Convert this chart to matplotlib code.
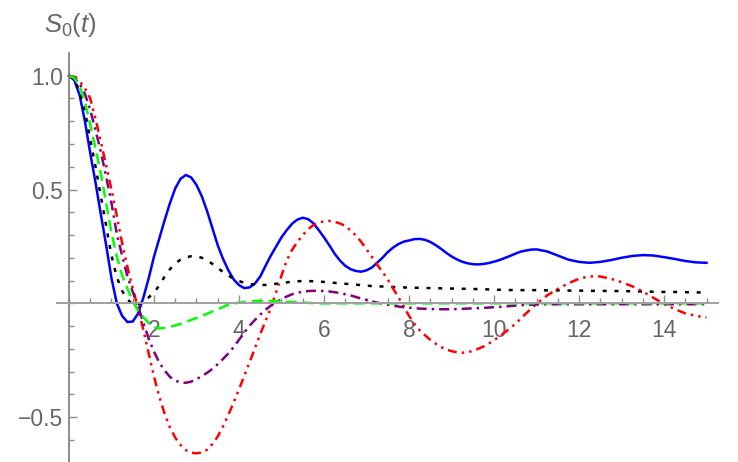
import numpy as np
import matplotlib
matplotlib.use("Agg")
import matplotlib.pyplot as plt
from matplotlib.ticker import FixedLocator, MultipleLocator

plt.rcParams['font.family'] = ['Liberation Sans', 'DejaVu Sans']
plt.rcParams['mathtext.fontset'] = 'custom'
plt.rcParams['mathtext.rm'] = 'Liberation Sans'
plt.rcParams['mathtext.it'] = 'Liberation Sans:italic'

# time grid: step 0.125 up to t = 10.875, then step 0.25 up to t = 15
t = np.concatenate([np.arange(88) * 0.125, 11 + np.arange(17) * 0.25])

s_blue = [1.0, 0.98, 0.915, 0.80, 0.66, 0.53, 0.39, 0.255, 0.11, 0.0,
          -0.055, -0.082, -0.08, -0.045, 0.025, 0.11, 0.205, 0.285, 0.365, 0.44,
          0.505, 0.547, 0.564, 0.553, 0.52, 0.47, 0.405, 0.33, 0.255, 0.195,
          0.145, 0.105, 0.08, 0.067, 0.07, 0.087, 0.118, 0.165, 0.21, 0.25,
          0.29, 0.322, 0.35, 0.368, 0.376, 0.37, 0.352, 0.322, 0.29, 0.255,
          0.218, 0.188, 0.165, 0.15, 0.142, 0.139, 0.145, 0.157, 0.178, 0.20,
          0.225, 0.245, 0.26, 0.271,
          0.276, 0.282, 0.283, 0.279, 0.27, 0.256, 0.24, 0.222, 0.206, 0.193,
          0.183, 0.176, 0.172, 0.171, 0.173, 0.177, 0.183, 0.19, 0.199, 0.208,
          0.218, 0.227, 0.232, 0.236,
          0.237, 0.228, 0.21, 0.192, 0.182, 0.178, 0.182, 0.19, 0.20, 0.208,
          0.212, 0.21, 0.203, 0.195, 0.186, 0.18, 0.178]

s_black = [1.0, 0.985, 0.93, 0.845, 0.72, 0.60, 0.47, 0.34, 0.21, 0.115,
           0.055, 0.018, -0.006, -0.005, 0.008, 0.026, 0.048, 0.078, 0.118, 0.15,
           0.175, 0.192, 0.202, 0.207, 0.207, 0.20, 0.19, 0.173, 0.155, 0.138,
           0.122, 0.108, 0.098, 0.09, 0.085, 0.082, 0.08, 0.081, 0.083, 0.086,
           0.089, 0.092, 0.095, 0.097, 0.098, 0.098, 0.097, 0.096, 0.094, 0.092,
           0.09, 0.088, 0.086, 0.084, 0.082, 0.08, 0.078, 0.076, 0.075, 0.074,
           0.073, 0.072, 0.071, 0.070,
           0.069, 0.0685, 0.068, 0.0675, 0.067, 0.0665, 0.066, 0.0655, 0.065, 0.0645,
           0.064, 0.0635, 0.063, 0.0625, 0.062, 0.061, 0.060, 0.0595, 0.059, 0.0585,
           0.058, 0.058, 0.058, 0.058,
           0.058, 0.057, 0.057, 0.056, 0.056, 0.055, 0.055, 0.054, 0.054, 0.053,
           0.052, 0.051, 0.050, 0.050, 0.049, 0.048, 0.048]

s_green = [1.0, 0.99, 0.955, 0.885, 0.785, 0.68, 0.57, 0.44, 0.31, 0.205,
           0.123, 0.065, 0.008, -0.032, -0.06, -0.087, -0.105, -0.11, -0.108, -0.103,
           -0.097, -0.09, -0.082, -0.073, -0.064, -0.055, -0.046, -0.036, -0.026, -0.016,
           -0.006, -0.001, 0.003, 0.005, 0.008, 0.01, 0.011, 0.011, 0.011, 0.01,
           0.009, 0.007, 0.006, 0.004, 0.003, 0.002, 0.001, 0.0, 0.0, 0.0,
           0.0, 0.0, 0.0, 0.0, 0.0, 0.0, 0.0, 0.0, 0.0, 0.0,
           0.0, 0.0, 0.0, 0.0,
           0.0, 0.0, 0.0, 0.0, 0.0, 0.0, 0.0, 0.0, 0.0, 0.0,
           0.0, 0.0, 0.0, 0.0, 0.0, 0.0, 0.0, 0.0, 0.0, 0.0,
           0.0, 0.0, 0.0, 0.0,
           0.0, 0.0, 0.0, 0.0, 0.0, 0.0, 0.0, 0.0, 0.0, 0.0,
           0.0, 0.0, 0.0, 0.0, 0.0, 0.0, 0.0]

s_purple = [1.0, 0.99, 0.965, 0.92, 0.85, 0.76, 0.665, 0.555, 0.44, 0.305,
            0.21, 0.118, 0.05, -0.012, -0.085, -0.155, -0.212, -0.26, -0.295, -0.323,
            -0.34, -0.347, -0.349, -0.344, -0.333, -0.32, -0.305, -0.288, -0.267, -0.244,
            -0.22, -0.192, -0.16, -0.128, -0.098, -0.073, -0.05, -0.028, -0.01, 0.005,
            0.019, 0.03, 0.04, 0.046, 0.051, 0.054, 0.055, 0.055, 0.054, 0.052,
            0.049, 0.045, 0.04, 0.035, 0.028, 0.021, 0.015, 0.009, 0.003, -0.001,
            -0.006, -0.01, -0.014, -0.017,
            -0.019, -0.021, -0.023, -0.024, -0.025, -0.0255, -0.026, -0.026, -0.026, -0.025,
            -0.024, -0.023, -0.022, -0.021, -0.02, -0.0185, -0.017, -0.0155, -0.014, -0.012,
            -0.01, -0.0085, -0.007, -0.006,
            -0.005, -0.004, -0.004, -0.004, -0.004, -0.004, -0.004, -0.004, -0.004, -0.004,
            -0.004, -0.004, -0.004, -0.004, -0.004, -0.004, -0.004]

s_red = [1.0, 0.995, 0.975, 0.945, 0.90, 0.81, 0.71, 0.605, 0.50, 0.385,
         0.265, 0.16, 0.065, -0.02, -0.117, -0.22, -0.322, -0.41, -0.485, -0.545,
         -0.59, -0.622, -0.645, -0.656, -0.659, -0.655, -0.643, -0.618, -0.585, -0.54,
         -0.49, -0.435, -0.378, -0.318, -0.258, -0.197, -0.135, -0.077, -0.02, 0.05,
         0.122, 0.19, 0.235, 0.27, 0.30, 0.325, 0.344, 0.355, 0.36, 0.362,
         0.358, 0.351, 0.34, 0.32, 0.298, 0.27, 0.238, 0.205, 0.17, 0.138,
         0.105, 0.065, 0.027, -0.013,
         -0.055, -0.09, -0.118, -0.14, -0.16, -0.177, -0.192, -0.203, -0.21, -0.215,
         -0.217, -0.215, -0.209, -0.20, -0.19, -0.177, -0.162, -0.146, -0.128, -0.11,
         -0.09, -0.068, -0.045, -0.023,
         -0.002, 0.035, 0.063, 0.088, 0.108, 0.118, 0.118, 0.108, 0.093, 0.075,
         0.052, 0.024, -0.002, -0.025, -0.044, -0.055, -0.062]

x_major = [2, 4, 6, 8, 10, 12, 14]
y_major = [-0.5, 0.5, 1.0]
y_labels = ['\u22120.5', '0.5', '1.0']

axis_gray = '#8c8c8c'
text_gray = '#666666'

fig = plt.figure(figsize=(7.38, 4.62), dpi=100)
ax = fig.add_axes([57 / 738, 0, 661 / 738, 409 / 462])
ax.set_xlim(-0.282, 15.27)
ax.set_ylim(-0.697, 1.0997)

lw = 1.8
ax.plot(t, s_blue, color='#0000ff', lw=lw)
ax.plot(t, s_black, color='black', lw=lw, dashes=(1.6, 3.1))
ax.plot(t, s_red, color='#ff0000', lw=lw, dashes=(3.6, 2.0, 1.0, 2.0, 1.0, 2.0))
ax.plot(t, s_purple, color='#800080', lw=lw, dashes=(4.0, 2.0, 1.0, 2.0))
ax.plot(t, s_green, color='#00ff00', lw=lw, dashes=(4.4, 2.4))

# axes through the origin
for side in ['top', 'right']:
    ax.spines[side].set_visible(False)
ax.spines['left'].set_position(('data', 0))
ax.spines['bottom'].set_position(('data', 0))
ax.spines['left'].set_color('#6e6e6e')
ax.spines['bottom'].set_color('#a0a0a0')
ax.spines['left'].set_linewidth(1.1)
ax.spines['bottom'].set_linewidth(1.4)

ax.xaxis.set_major_locator(FixedLocator(x_major))
ax.xaxis.set_minor_locator(MultipleLocator(0.5))
ax.yaxis.set_major_locator(FixedLocator(y_major))
ax.yaxis.set_minor_locator(MultipleLocator(0.1))
ax.set_yticklabels(y_labels)

ax.tick_params(which='both', direction='in', color=axis_gray, width=1.0,
               labelcolor=text_gray, labelsize=16.5)
ax.tick_params(which='major', length=6)
ax.tick_params(which='minor', length=3.5)
ax.tick_params(axis='x', pad=11.5)
ax.tick_params(axis='y', pad=4)

fig.text(70 / 738, 1 - 25 / 462, r'$S_0(t)$', ha='center', va='center',
         fontsize=18.5, color=text_gray)

fig.savefig('out.png', dpi=100)
